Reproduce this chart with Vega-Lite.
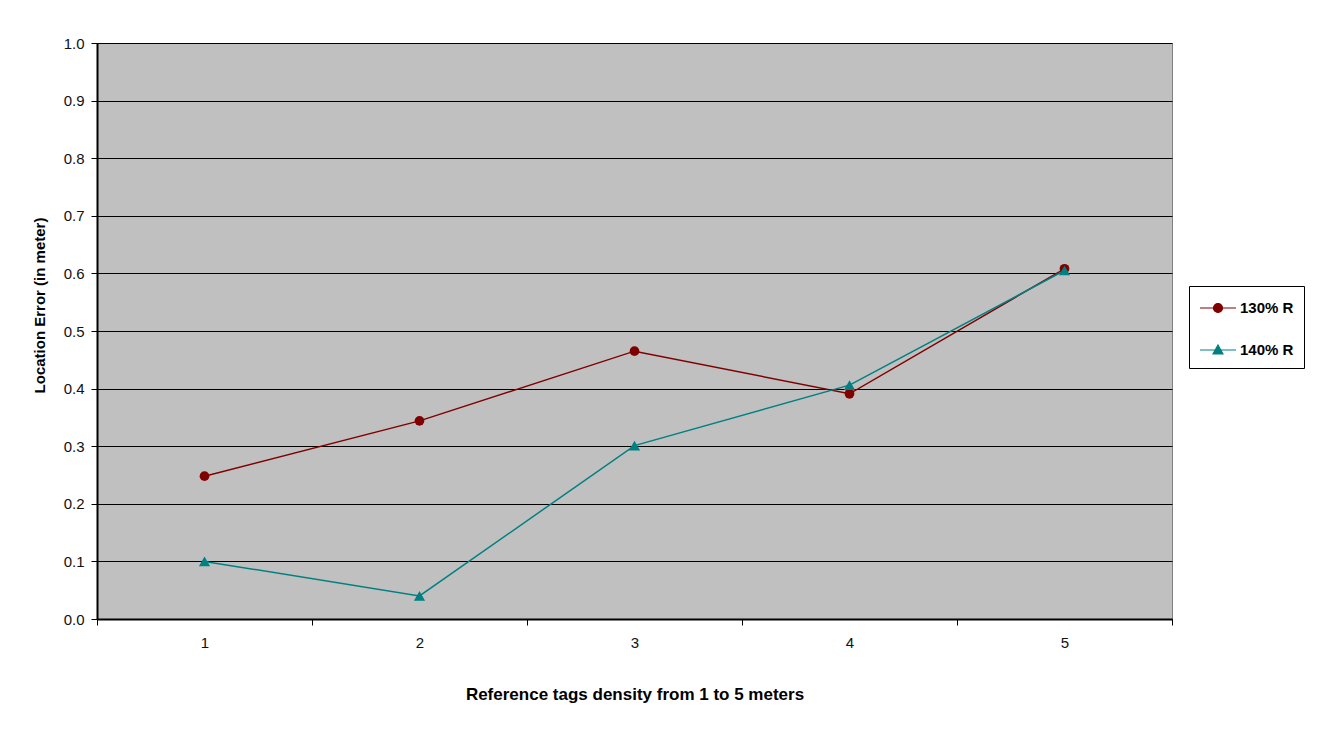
{
  "$schema": "https://vega.github.io/schema/vega-lite/v6.json",
  "width": 1075,
  "height": 576,
  "autosize": {"type": "none"},
  "padding": {"left": 97, "top": 43, "right": 148, "bottom": 111},
  "background": "white",
  "config": {
    "font": "Liberation Sans",
    "view": {"fill": "#C0C0C0", "stroke": "#808080", "strokeWidth": 1},
    "axis": {
      "labelFont": "Liberation Sans",
      "labelFontSize": 15,
      "labelColor": "#111111",
      "titleFont": "Liberation Sans",
      "titleFontWeight": "bold",
      "titleColor": "#000000",
      "domainColor": "#000000",
      "domainWidth": 2,
      "tickColor": "#000000",
      "tickWidth": 1,
      "tickSize": 6
    },
    "legend": {
      "orient": "none",
      "legendX": 1092,
      "legendY": 243,
      "title": null,
      "strokeColor": "#000000",
      "fillColor": "#FFFFFF",
      "padding": 10,
      "symbolSize": 484,
      "symbolOffset": 7,
      "labelOffset": 10,
      "rowPadding": 22,
      "labelFont": "Liberation Sans",
      "labelFontSize": 15,
      "labelFontWeight": "bold",
      "labelColor": "#000000",
      "symbolStrokeWidth": 1.2,
      "symbolOpacity": 1
    }
  },
  "data": {
    "values": [
      {"density": 1, "series": "130% R", "error": 0.248},
      {"density": 2, "series": "130% R", "error": 0.344},
      {"density": 3, "series": "130% R", "error": 0.465},
      {"density": 4, "series": "130% R", "error": 0.391},
      {"density": 5, "series": "130% R", "error": 0.608},
      {"density": 1, "series": "140% R", "error": 0.100},
      {"density": 2, "series": "140% R", "error": 0.040},
      {"density": 3, "series": "140% R", "error": 0.301},
      {"density": 4, "series": "140% R", "error": 0.406},
      {"density": 5, "series": "140% R", "error": 0.605}
    ]
  },
  "encoding": {
    "x": {
      "field": "density",
      "type": "ordinal",
      "bandPosition": 0.5,
      "scale": {"type": "band", "paddingInner": 0, "paddingOuter": 0},
      "axis": {
        "title": "Reference tags density from 1 to 5 meters",
        "titleFontSize": 17,
        "titlePadding": 36,
        "labelAngle": 0,
        "labelPadding": 10,
        "tickBand": "extent",
        "grid": false
      }
    },
    "y": {
      "field": "error",
      "type": "quantitative",
      "scale": {"domain": [0, 1], "nice": false, "zero": true},
      "axis": {
        "title": "Location Error (in meter)",
        "titleFontSize": 15,
        "titleX": -50,
        "titleY": 262,
        "values": [0, 0.1, 0.2, 0.3, 0.4, 0.5, 0.6, 0.7, 0.8, 0.9, 1.0],
        "format": ".1f",
        "labelPadding": 7,
        "grid": true,
        "gridColor": "#000000",
        "gridWidth": 1,
        "gridOpacity": 1
      }
    },
    "color": {
      "field": "series",
      "type": "nominal",
      "scale": {"domain": ["130% R", "140% R"], "range": ["#800000", "#008080"]}
    }
  },
  "layer": [
    {
      "mark": {"type": "line", "strokeWidth": 1.5}
    },
    {
      "transform": [{"filter": "datum.series === '130% R'"}],
      "mark": {"type": "point", "shape": "circle", "filled": true, "size": 95, "opacity": 1}
    },
    {
      "transform": [{"filter": "datum.series === '140% R'"}],
      "mark": {"type": "point", "shape": "triangle-up", "filled": true, "size": 125, "opacity": 1}
    },
    {
      "mark": {"type": "point", "filled": true, "opacity": 0, "strokeWidth": 1.2},
      "encoding": {
        "shape": {
          "field": "series",
          "type": "nominal",
          "scale": {
            "domain": ["130% R", "140% R"],
            "range": [
              "M-1.636,0H1.636M0.41,0A0.41,0.41 0 1,1 -0.41,0A0.41,0.41 0 1,1 0.41,0Z",
              "M-1.636,0H1.636M0,-0.45L0.45,0.36L-0.45,0.36Z"
            ]
          }
        },
        "stroke": {
          "field": "series",
          "type": "nominal",
          "scale": {"domain": ["130% R", "140% R"], "range": ["#800000", "#008080"]}
        }
      }
    }
  ],
  "resolve": {"legend": {"color": "shared", "shape": "shared", "stroke": "shared"}}
}
